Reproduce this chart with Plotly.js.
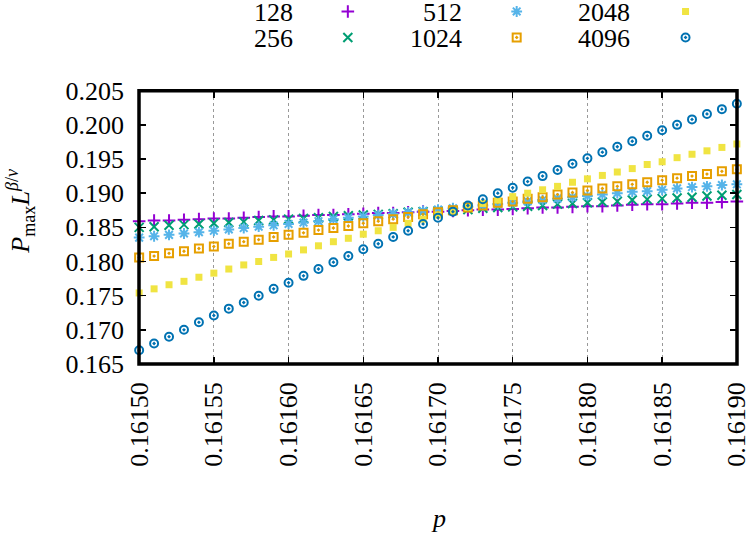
<!DOCTYPE html>
<html>
<head>
<meta charset="utf-8">
<script src="https://cdn.plot.ly/plotly-3.0.1.min.js"></script>
<style>html,body{margin:0;padding:0;background:#fff;}#chart{width:750px;height:533px;}</style>
</head>
<body>
<div id="chart"></div>
<script>
// ---- data ----
const p = [0.16150,0.16151,0.16152,0.16153,0.16154,0.16155,0.16156,0.16157,0.16158,0.16159,
           0.16160,0.16161,0.16162,0.16163,0.16164,0.16165,0.16166,0.16167,0.16168,0.16169,
           0.16170,0.16171,0.16172,0.16173,0.16174,0.16175,0.16176,0.16177,0.16178,0.16179,
           0.16180,0.16181,0.16182,0.16183,0.16184,0.16185,0.16186,0.16187,0.16188,0.16189,0.16190];

const xTickVals = [0.16150,0.16155,0.16160,0.16165,0.16170,0.16175,0.16180,0.16185,0.16190];
const xTickText = ["0.16150","0.16155","0.16160","0.16165","0.16170","0.16175","0.16180","0.16185","0.16190"];
const yTickVals = [0.165,0.170,0.175,0.180,0.185,0.190,0.195,0.200,0.205];
const yTickText = ["0.165","0.170","0.175","0.180","0.185","0.190","0.195","0.200","0.205"];

const sizeLabels = ["128","256","512","1024","2048","4096"];

const L128 = [0.1859,0.1860,0.1860,0.1861,0.1862,0.1863,0.1863,0.1864,0.1865,0.1866,
              0.1866,0.1867,0.1868,0.1868,0.1869,0.1870,0.1871,0.1871,0.1872,0.1873,
              0.1873,0.1874,0.1875,0.1876,0.1876,0.1877,0.1878,0.1879,0.1879,0.1880,
              0.1881,0.1881,0.1882,0.1883,0.1884,0.1884,0.1885,0.1886,0.1886,0.1887,0.1888];

const L256 = [0.1850,0.1851,0.1853,0.1854,0.1855,0.1856,0.1857,0.1858,0.1860,0.1861,
              0.1862,0.1863,0.1864,0.1866,0.1867,0.1868,0.1869,0.1870,0.1872,0.1873,
              0.1874,0.1875,0.1876,0.1878,0.1879,0.1880,0.1881,0.1882,0.1884,0.1885,
              0.1886,0.1887,0.1888,0.1890,0.1891,0.1892,0.1893,0.1894,0.1896,0.1897,0.1898];

const L512 = [0.1835,0.1837,0.1839,0.1841,0.1843,0.1845,0.1847,0.1849,0.1851,0.1853,
              0.1855,0.1857,0.1859,0.1862,0.1864,0.1866,0.1868,0.1870,0.1872,0.1874,
              0.1876,0.1878,0.1880,0.1882,0.1884,0.1886,0.1888,0.1890,0.1892,0.1894,
              0.1896,0.1898,0.1900,0.1902,0.1903,0.1905,0.1907,0.1909,0.1910,0.1912,0.1913];

const L1024 = [0.1806,0.1808,0.1812,0.1815,0.1819,0.1822,0.1826,0.1829,0.1832,0.1836,
               0.1839,0.1842,0.1846,0.1849,0.1852,0.1856,0.1859,0.1862,0.1865,0.1869,
               0.1872,0.1875,0.1879,0.1882,0.1886,0.1888,0.1892,0.1894,0.1898,0.1901,
               0.1904,0.1907,0.1910,0.1913,0.1916,0.1919,0.1922,0.1925,0.1928,0.1932,0.1935];

const L2048 = [0.1754,0.1760,0.1766,0.1771,0.1777,0.1783,0.1789,0.1795,0.1800,0.1806,
               0.1811,0.1817,0.1823,0.1829,0.1834,0.1840,0.1845,0.1850,0.1856,0.1862,
               0.1868,0.1874,0.1879,0.1885,0.1890,0.1895,0.1900,0.1905,0.1910,0.1916,
               0.1921,0.1926,0.1931,0.1936,0.1942,0.1946,0.1952,0.1957,0.1962,0.1967,0.1972];

const L4096 = [0.1670,0.1680,0.1690,0.1700,0.1711,0.1721,0.1731,0.1740,0.1750,0.1760,
               0.1769,0.1779,0.1789,0.1799,0.1808,0.1818,0.1826,0.1836,0.1845,0.1855,
               0.1864,0.1873,0.1882,0.1891,0.1900,0.1908,0.1917,0.1925,0.1934,0.1943,
               0.1951,0.1960,0.1968,0.1976,0.1984,0.1992,0.2000,0.2008,0.2016,0.2023,0.2031];

const seriesValues = [L128, L256, L512, L1024, L2048, L4096];

// ---- styles ----
const styles = [
  {symbol:"cross-thin-open",  size:9, color:"#9400d3", lw:2},
  {symbol:"x-thin-open",      size:9, color:"#009e73", lw:2},
  {symbol:"asterisk-open",    size:9, color:"#56b4e9", lw:2},
  {symbol:"square-open-dot",  size:8, color:"#e69f00", lw:2},
  {symbol:"square",           size:7, color:"#f0e442", lw:0},
  {symbol:"circle-open-dot",  size:8, color:"#0072b2", lw:2}
];
// legend key layout (pixel-like coordinates in the legend strip)
const legendCols = [[295,348],[464,517],[632,686]];
const legendRows = [13,39];

const FONT = "Liberation Serif";

const traces = [];
seriesValues.forEach((vals, k) => {
  const s = styles[k];
  traces.push({
    type:"scatter", mode:"markers", x:p, y:vals, name:sizeLabels[k],
    xaxis:"x", yaxis:"y", cliponaxis:false, showlegend:false, hoverinfo:"skip",
    marker:{symbol:s.symbol, size:s.size, color:s.color, line:{color:s.color, width:s.lw}}
  });
});

const annotations = [];
sizeLabels.forEach((lab, k) => {
  const col = legendCols[Math.floor(k/2)];
  const row = legendRows[k%2];
  const s = styles[k];
  traces.push({
    type:"scatter", mode:"markers", x:[col[1]], y:[row - 1.5], xaxis:"x2", yaxis:"y2",
    cliponaxis:false, showlegend:false, hoverinfo:"skip",
    marker:{symbol:s.symbol, size:s.size, color:s.color, line:{color:s.color, width:s.lw}}
  });
  annotations.push({
    xref:"x2", yref:"y2", x:col[0], y:row, xanchor:"right", yanchor:"middle",
    text:lab, showarrow:false, font:{family:FONT, size:26, color:"#000"}
  });
});

annotations.push({
  xref:"paper", yref:"paper", x:-0.199, y:0.421, xanchor:"center", yanchor:"middle",
  textangle:-90, showarrow:false,
  text:"<i>P</i><sub>max</sub><i>L</i><sup><i>β</i>/<i>ν</i></sup>",
  font:{family:FONT, size:26, color:"#000"}
});
annotations.push({
  xref:"paper", yref:"paper", x:0.5, y:-0.425, xanchor:"center", yanchor:"middle",
  showarrow:false, text:"<i>p</i>", font:{family:FONT, size:26, color:"#000"}
});

const layout = {
  width:750, height:533,
  margin:{l:139, r:12.5, t:0, b:168.6, pad:0},
  paper_bgcolor:"#fff", plot_bgcolor:"#fff",
  showlegend:false,
  font:{family:FONT, size:26, color:"#000"},
  xaxis:{
    range:[0.1614999, 0.1619001], tickmode:"array", tickvals:xTickVals, ticktext:xTickText,
    tickangle:-90, ticks:"inside", ticklen:7, tickwidth:1.5, tickcolor:"#000",
    mirror:"ticks", showline:false, zeroline:false,
    showgrid:true, gridcolor:"#999", griddash:"dot", gridwidth:1,
    tickfont:{family:FONT, size:26, color:"#000"}, ticklabelstandoff:12,
    ticklabeloverflow:"allow"
  },
  yaxis:{
    domain:[0, 0.7508], range:[0.165, 0.205], tickmode:"array", tickvals:yTickVals, ticktext:yTickText,
    ticks:"inside", ticklen:7, tickwidth:1.5, tickcolor:"#000",
    mirror:"ticks", showline:false, zeroline:false, showgrid:false,
    tickfont:{family:FONT, size:26, color:"#000"}, ticklabelstandoff:14
  },
  xaxis2:{domain:[0,1], anchor:"y2", range:[139, 737.5], visible:false, fixedrange:true},
  yaxis2:{domain:[0.77,1], anchor:"x2", range:[83.8, 0], visible:false, fixedrange:true},
  shapes:[{type:"rect", xref:"x domain", yref:"y domain", x0:0, x1:1, y0:0, y1:1,
           line:{color:"#000", width:3.5}, fillcolor:"rgba(0,0,0,0)", layer:"above"}],
  annotations:annotations
};

Plotly.newPlot("chart", traces, layout, {staticPlot:true, displayModeBar:false});
</script>
</body>
</html>
